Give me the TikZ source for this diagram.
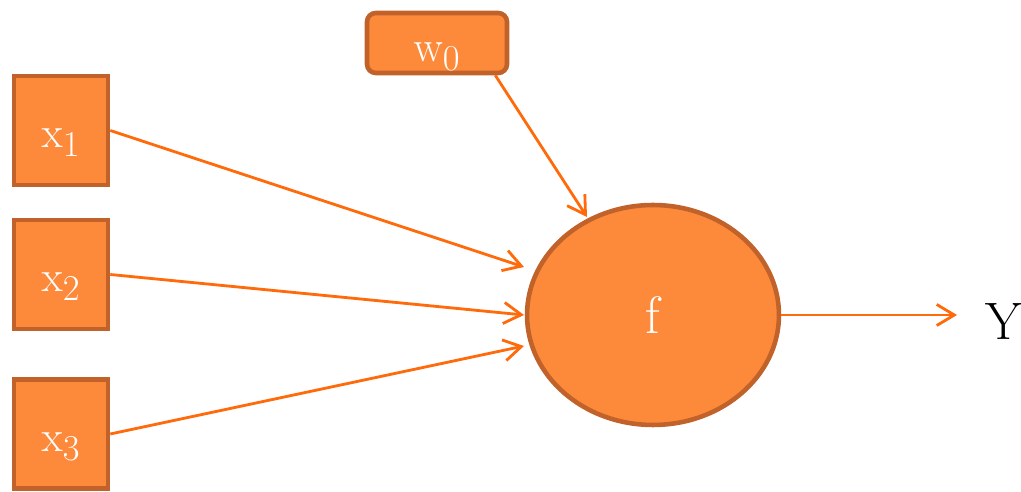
\documentclass[tikz,border=0pt]{standalone}
\usetikzlibrary{arrows.meta,shapes.geometric,calc}
\definecolor{boxfill}{HTML}{FD8A3A}
\definecolor{boxdraw}{HTML}{C0622A}
\definecolor{arrcol}{HTML}{FF6A0A}
\begin{document}
\begin{tikzpicture}[x=0.02cm,y=-0.02cm,
  inbox/.style={draw=boxdraw,fill=boxfill,line width=2.6pt,minimum width=1.88cm,minimum height=2.18cm,inner sep=0pt},
  wbox/.style={draw=boxdraw,fill=boxfill,line width=2.6pt,rounded corners=5pt,minimum width=2.8cm,minimum height=1.2cm,inner sep=0pt},
  fnode/.style={ellipse,draw=boxdraw,fill=boxfill,line width=2.6pt,minimum width=5.04cm,minimum height=4.4cm,inner sep=0pt},
  txt/.style={text=white,font=\fontsize{30}{32}\selectfont,anchor=base,inner sep=0pt},
  conn/.style={draw=arrcol,line width=1.6pt,-{Straight Barb[length=10pt,width=12pt,line width=1.6pt]}}
]
\useasboundingbox (0,0) rectangle (1021,492);
\node[inbox] (x1) at (61,130.5) {};
\node[inbox] (x2) at (61,274.5) {};
\node[inbox] (x3) at (61,434) {};
\node[wbox] (w0) at (437,43) {};
\node[fnode] (f) at (653,315) {};
\node[txt] (x1t) at (61,148) {$\mathrm{x}_1$};
\node[txt] (x2t) at (61,292) {$\mathrm{x}_2$};
\node[txt] (x3t) at (61,452) {$\mathrm{x}_3$};
\node[txt] (w0t) at (437,62) {$\mathrm{w}_0$};
\node[txt] (ft) at (653,334) {f};
\node[txt,text=black] (Y) at (1004,340) {Y};
\coordinate (t1) at (524,267);
\coordinate (t2) at (524,315);
\coordinate (t3) at (524,346);
\coordinate (t0) at (587,217);
\coordinate (tY) at (957,315);
\draw[conn] (x1.east) -- (t1);
\draw[conn] (x2.east) -- (t2);
\draw[conn] (x3.east) -- (t3);
\draw[conn] ($(w0.south east)+(-14,0)$) -- (t0);
\draw[conn] (f.east) -- (tY);
\end{tikzpicture}
\end{document}
